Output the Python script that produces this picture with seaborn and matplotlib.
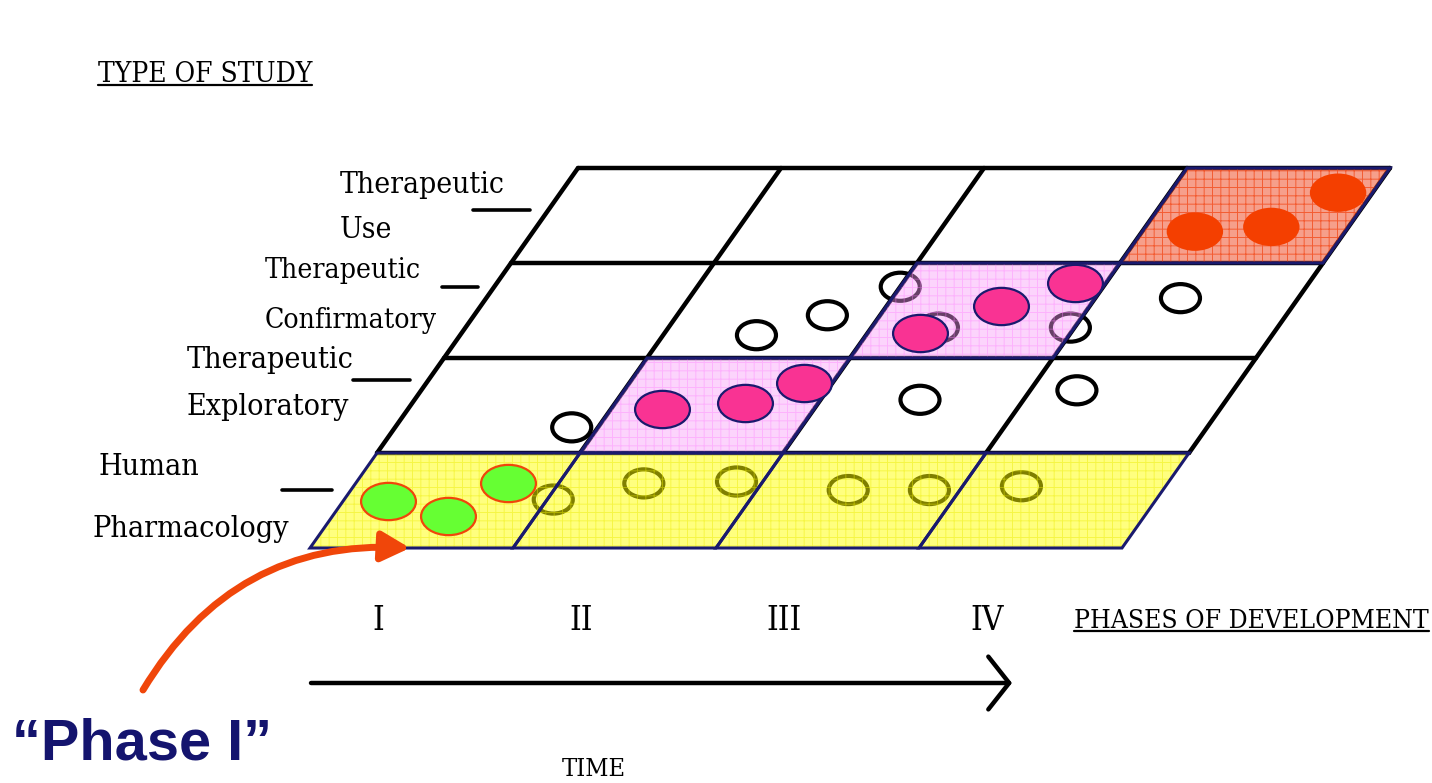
import matplotlib
matplotlib.use("Agg")
import matplotlib.pyplot as plt
import seaborn as sns
from matplotlib import font_manager
from matplotlib.path import Path
from matplotlib.patches import Polygon, FancyArrowPatch
from matplotlib.transforms import Affine2D

# ---- data -------------------------------------------------------------
phases = ["I", "II", "III", "IV"]
study_lines = [["Human", "Pharmacology"],
               ["Therapeutic", "Exploratory"],
               ["Therapeutic", "Confirmatory"],
               ["Therapeutic", "Use"]]

# highlighted cells (phase index, study-type index, kind)
cell_phase = [0, 1, 2, 3, 1, 2, 3]
cell_study = [0, 0, 0, 0, 1, 2, 3]
cell_kind = ["yellow", "yellow", "yellow", "yellow", "pink", "pink", "orange"]

# dots, in grid units (u = phase axis, v = study-type axis)
green_u = [0.22, 0.57, 0.75]
green_v = [0.50, 0.34, 0.68]
pink_u = [1.25, 1.64, 1.86, 2.26, 2.56, 2.85]
pink_v = [1.46, 1.53, 1.74, 2.26, 2.55, 2.79]
orange_u = [3.26, 3.62, 3.83]
orange_v = [3.33, 3.38, 3.74]
open_u = [0.87, 1.46, 1.74, 2.00, 2.33, 2.98, 2.49, 3.23, 3.42,
          1.03, 1.42, 1.87, 2.45, 2.85, 3.29]
open_v = [1.27, 2.24, 2.45, 2.75, 2.32, 2.32, 1.56, 1.66, 2.63,
          0.51, 0.68, 0.70, 0.61, 0.61, 0.65]

fill_cols = {"yellow": ((1.0, 1.0, 0.0, 0.5), (0.92, 0.92, 0.0, 0.45)),
             "pink": ((0.98, 0.6, 0.98, 0.42), (1.0, 0.5, 1.0, 0.4)),
             "orange": ((0.94, 0.31, 0.16, 0.54), (0.95, 0.25, 0.05, 0.7))}
navy = "#1a1a6e"

# ---- fonts ------------------------------------------------------------
def pick_serif():
    for f in font_manager.fontManager.ttflist:
        if f.fname.endswith("DejaVuSerifCondensed.ttf"):
            return font_manager.FontProperties(fname=f.fname)
    for f in font_manager.fontManager.ttflist:
        if f.name == "Liberation Sans Narrow" and f.weight in (400, "normal") and f.style == "normal":
            return font_manager.FontProperties(fname=f.fname)
    return font_manager.FontProperties(family="Liberation Serif")

sns.set_theme(style="white")
plt.rcParams["hatch.linewidth"] = 0.7
plt.rcParams["text.color"] = "black"
serif = pick_serif()

fig = plt.figure(figsize=(14.32, 7.83), dpi=100)
ax = fig.add_axes([0, 0, 1, 1])
ax.set_xlim(0, 1432)
ax.set_ylim(783, 0)
ax.axis("off")
renderer = fig.canvas.get_renderer()

# skewed grid: (u, v) -> pixel space
skew = Affine2D([[203, 67, 310], [0, -95, 548], [0, 0, 1]])
grid_tr = skew + ax.transData
n_ph, n_st = len(phases), len(study_lines)

# black grid above the first row
for v in range(1, n_st + 1):
    ax.plot([0, n_ph], [v, v], color="black", lw=3.2, transform=grid_tr,
            solid_capstyle="round", zorder=1)
for u in range(0, n_ph + 1):
    ax.plot([u, u], [1, n_st], color="black", lw=3.2, transform=grid_tr,
            solid_capstyle="round", zorder=1)

# open circles (sit under the tinted cells)
def ellipse_marker(ratio):
    return Path.unit_circle().transformed(Affine2D().scale(1, ratio))

open_xy = skew.transform(list(zip(open_u, open_v)))
ax.scatter(open_xy[:, 0], open_xy[:, 1], marker=ellipse_marker(0.72), s=790,
           facecolors="none", edgecolors="black", linewidths=3, zorder=2)

# tinted cells
for p, s, k in zip(cell_phase, cell_study, cell_kind):
    corners = [(p, s), (p + 1, s), (p + 1, s + 1), (p, s + 1)]
    face, hatch_c = fill_cols[k]
    ax.add_patch(Polygon(corners, closed=True, transform=grid_tr, facecolor=face,
                         edgecolor=hatch_c, hatch="++", lw=0, zorder=3))
    ax.add_patch(Polygon(corners, closed=True, transform=grid_tr, fill=False,
                         edgecolor=navy, lw=2.2, zorder=4))

# filled dots
def dots(us, vs, color, edge, ratio, size):
    xy = skew.transform(list(zip(us, vs)))
    sns.scatterplot(x=xy[:, 0], y=xy[:, 1], marker=ellipse_marker(ratio), s=size,
                    color=color, edgecolor=edge, linewidth=1.6 if edge != "none" else 0,
                    ax=ax, zorder=5, legend=False)

dots(green_u, green_v, "#66ff33", "#f0460a", 0.68, 1560)
dots(pink_u, pink_v, "#f93393", navy, 0.68, 1560)
dots(orange_u, orange_v, "#f43f00", "none", 0.68, 1650)
ax.set_xlim(0, 1432)
ax.set_ylim(783, 0)

# ---- text -------------------------------------------------------------
def fit_text(x, y, s, width, fp=serif, **kw):
    t = ax.text(x, y, s, fontproperties=fp, fontsize=20, va="baseline",
                color="black", **kw)
    w = t.get_window_extent(renderer).width
    t.set_fontsize(20 * width / w)
    return t

def underline(t, y, lw=1.6):
    bb = t.get_window_extent(renderer)
    ax.plot([bb.x0, bb.x1], [y, y], color="black", lw=lw, zorder=6)

t = fit_text(98, 82, "TYPE OF STUDY", 214)
underline(t, 85)

label_pos = [((98, 475), (93, 537), 197, (282, 332, 490)),
             ((187, 368), (187, 415), 167, (353, 410, 380)),
             ((265, 278), (265, 328), 172, (442, 478, 287)),
             ((340, 193), (340, 238), 165, (473, 530, 210))]
for lines, (p1, p2, wfit, dash) in zip(study_lines, label_pos):
    longest = max(lines, key=len)
    if lines[0] == longest:
        ref = fit_text(p1[0], p1[1], lines[0], wfit)
        ax.text(p2[0], p2[1], lines[1], fontproperties=serif,
                fontsize=ref.get_fontsize(), va="baseline", color="black")
    else:
        ref = fit_text(p2[0], p2[1], lines[1], wfit)
        ax.text(p1[0], p1[1], lines[0], fontproperties=serif,
                fontsize=ref.get_fontsize(), va="baseline", color="black")
    ax.plot([dash[0], dash[1]], [dash[2], dash[2]], color="black", lw=2.6)

# phase numerals under each column
num_xy = skew.transform([(i + 0.6, -0.8) for i in range(n_ph)])
for (nx, ny), lab in zip(num_xy, phases):
    ax.text(nx, 630, lab, fontproperties=serif, fontsize=24, ha="center",
            va="baseline", color="black")

t = fit_text(1074, 628, "PHASES OF DEVELOPMENT", 354)
underline(t, 631)

ax.annotate("", xy=(1012, 683), xytext=(311, 683),
            arrowprops=dict(arrowstyle="->,head_length=0.75,head_width=0.95",
                            lw=3.2, color="black", mutation_scale=20,
                            shrinkA=0, shrinkB=0))
fit_text(562, 776, "TIME", 64)

bold = font_manager.FontProperties(family="Liberation Sans", weight="bold")
fit_text(12, 760, "\u201cPhase I\u201d", 260, fp=bold).set_color("#14146e")

ax.add_patch(FancyArrowPatch((143, 690), (410, 548),
                             connectionstyle="arc3,rad=-0.3",
                             arrowstyle="-|>,head_length=0.85,head_width=0.45",
                             mutation_scale=20, lw=5, color="#f0460a",
                             shrinkA=0, shrinkB=0, zorder=6))

fig.savefig("out.png", dpi=100)
